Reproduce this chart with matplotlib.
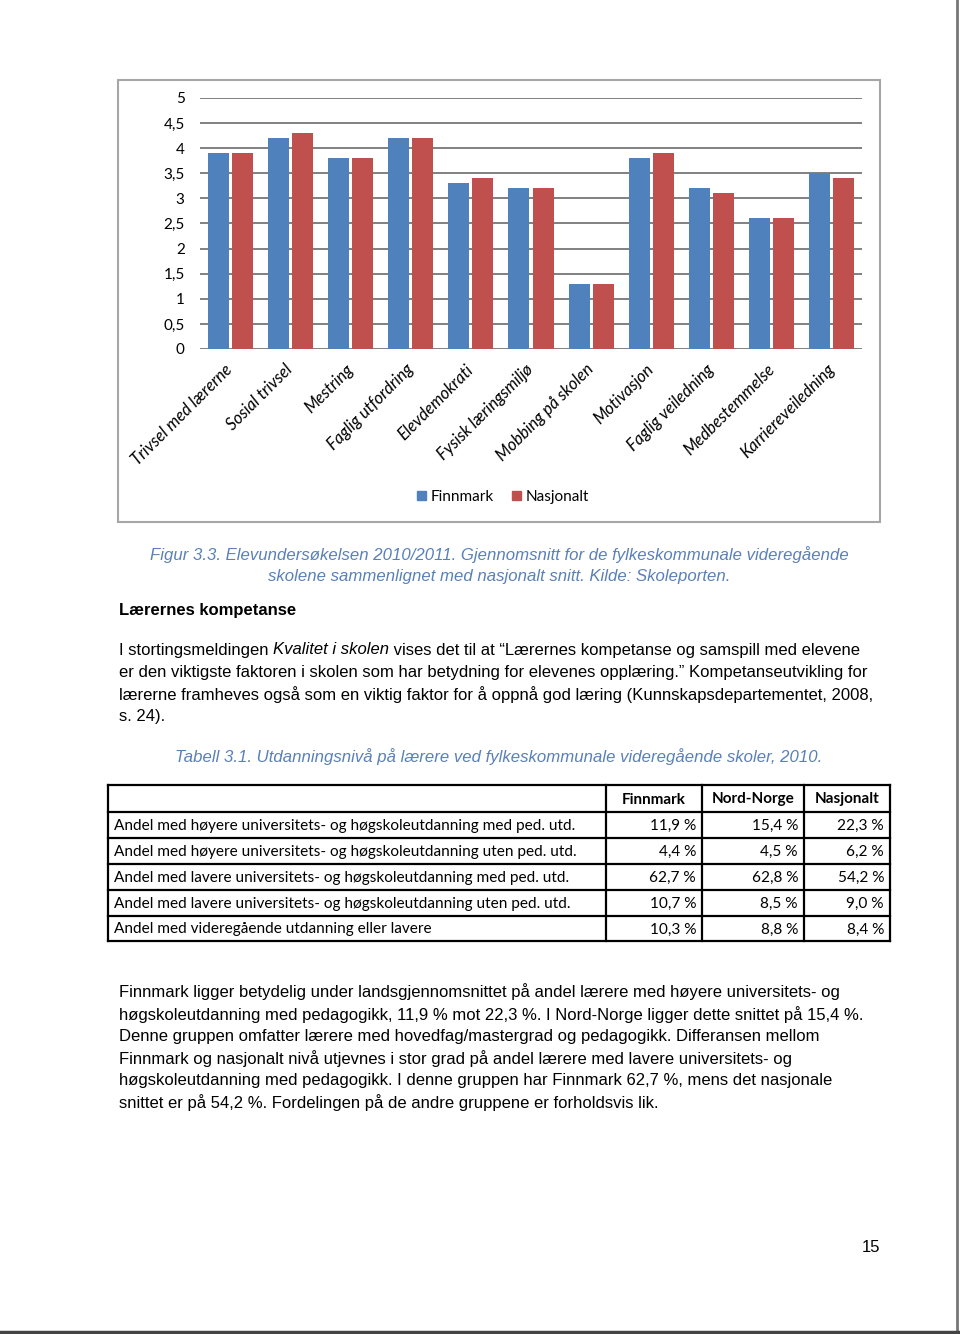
import matplotlib
matplotlib.use("Agg")
import matplotlib.pyplot as plt
from matplotlib.patches import Patch, Rectangle
from matplotlib.ticker import FuncFormatter, MultipleLocator
import numpy as np

# chart data (Elevundersøkelsen 2010/2011)
categories = ["Trivsel med lærerne", "Sosial trivsel", "Mestring", "Faglig utfordring",
              "Elevdemokrati", "Fysisk læringsmiljø", "Mobbing på skolen", "Motivasjon",
              "Faglig veiledning", "Medbestemmelse", "Karriereveiledning"]
finnmark = [3.9, 4.2, 3.8, 4.2, 3.3, 3.2, 1.3, 3.8, 3.2, 2.6, 3.5]
nasjonalt = [3.9, 4.3, 3.8, 4.2, 3.4, 3.2, 1.3, 3.9, 3.1, 2.6, 3.4]

# table data
tab_rows = ["Andel med høyere universitets- og høgskoleutdanning med ped. utd.",
            "Andel med høyere universitets- og høgskoleutdanning uten ped. utd.",
            "Andel med lavere universitets- og høgskoleutdanning med ped. utd.",
            "Andel med lavere universitets- og høgskoleutdanning uten ped. utd.",
            "Andel med videregående utdanning eller lavere"]
tab_cols = ["Finnmark", "Nord-Norge", "Nasjonalt"]
tab_finnmark = ["11,9 %", "4,4 %", "62,7 %", "10,7 %", "10,3 %"]
tab_nordnorge = ["15,4 %", "4,5 %", "62,8 %", "8,5 %", "8,8 %"]
tab_nasjonalt = ["22,3 %", "6,2 %", "54,2 %", "9,0 %", "8,4 %"]

fig_caption = ["Figur 3.3. Elevundersøkelsen 2010/2011. Gjennomsnitt for de fylkeskommunale videregående",
               "skolene sammenlignet med nasjonalt snitt. Kilde: Skoleporten."]
heading = "Lærernes kompetanse"
para1 = ["er den viktigste faktoren i skolen som har betydning for elevenes opplæring.\u201d Kompetanseutvikling for",
         "lærerne framheves også som en viktig faktor for å oppnå god læring (Kunnskapsdepartementet, 2008,",
         "s. 24)."]
tab_caption = "Tabell 3.1. Utdanningsnivå på lærere ved fylkeskommunale videregående skoler, 2010."
para2 = ["Finnmark ligger betydelig under landsgjennomsnittet på andel lærere med høyere universitets- og",
         "høgskoleutdanning med pedagogikk, 11,9 % mot 22,3 %. I Nord-Norge ligger dette snittet på 15,4 %.",
         "Denne gruppen omfatter lærere med hovedfag/mastergrad og pedagogikk. Differansen mellom",
         "Finnmark og nasjonalt nivå utjevnes i stor grad på andel lærere med lavere universitets- og",
         "høgskoleutdanning med pedagogikk. I denne gruppen har Finnmark 62,7 %, mens det nasjonale",
         "snittet er på 54,2 %. Fordelingen på de andre gruppene er forholdsvis lik."]

BLUE = "#4F81BD"
RED = "#C0504D"
CAP = "#5A80B8"
body_font = "Liberation Sans"
cal_font = "Lato"
BODY_SIZE = 12

fig = plt.figure(figsize=(9.6, 13.34), dpi=100)
fig.patch.set_facecolor("white")

# page overlay in pixel coords
pg = fig.add_axes([0, 0, 1, 1])
pg.set_xlim(0, 960)
pg.set_ylim(1334, 0)
pg.axis("off")

# page edges
pg.plot([957, 957], [0, 1333], color="#777777", lw=2)
pg.plot([0, 958], [1332, 1332], color="#444444", lw=2.5)

# chart frame
pg.add_patch(Rectangle((118, 80), 762, 442, fill=False, edgecolor="#a6a6a6", lw=1.5))

# the bar chart
ax = fig.add_axes([200 / 960, 1 - 349 / 1334, 662 / 960, 251 / 1334])
x = np.arange(len(categories))
w = 0.35
ax.bar(x - 0.2, finnmark, w, color=BLUE, zorder=3)
ax.bar(x + 0.2, nasjonalt, w, color=RED, zorder=3)
ax.set_xlim(-0.5, len(categories) - 0.5)
ax.set_ylim(0, 5)
ax.yaxis.set_major_locator(MultipleLocator(0.5))
ax.yaxis.set_major_formatter(FuncFormatter(lambda v, p: ("%g" % v).replace(".", ",")))
ax.grid(axis="y", color="#808080", lw=1.4, zorder=0)
ax.set_axisbelow(True)
for s in ax.spines.values():
    s.set_visible(False)
ax.tick_params(axis="both", length=0)
ax.tick_params(axis="y", pad=11)
for lab in ax.get_yticklabels():
    lab.set_fontfamily(cal_font)
    lab.set_fontsize(11)
ax.set_xticks(x)
ax.set_xticklabels(categories, rotation=45, ha="right", va="center",
                   rotation_mode="anchor", fontstyle="italic",
                   fontfamily=cal_font, fontsize=12)
ax.tick_params(axis="x", pad=13)

handles = [Patch(color=BLUE, label="Finnmark"), Patch(color=RED, label="Nasjonalt")]
fig.legend(handles=handles, loc="center", bbox_to_anchor=(503 / 960, 1 - 497 / 1334),
           ncol=2, frameon=False, handlelength=0.6, handleheight=0.6,
           handletextpad=0.3, columnspacing=1.2, prop={"family": cal_font, "size": 11})

# figure caption
for i, line in enumerate(fig_caption):
    pg.text(499, 555 + i * 21, line, ha="center", va="center", fontstyle="italic",
            family=body_font, fontsize=12.1, color=CAP)

pg.text(119, 611, heading, ha="left", va="center", family=body_font,
        fontsize=BODY_SIZE, fontweight="bold", color="black")

# first paragraph, first line has an italic title in it
fig.canvas.draw()
r = fig.canvas.get_renderer()
xpos = 119
for piece, style in [("I stortingsmeldingen ", "normal"), ("Kvalitet i skolen", "italic"),
                     (" vises det til at \u201cLærernes kompetanse og samspill med elevene", "normal")]:
    t = pg.text(xpos, 650, piece, ha="left", va="center", family=body_font,
                fontsize=BODY_SIZE, fontstyle=style)
    bb = t.get_window_extent(r)
    xpos += bb.width
for i, line in enumerate(para1):
    pg.text(119, 672 + i * 22.3, line, ha="left", va="center", family=body_font, fontsize=BODY_SIZE)

pg.text(499, 757, tab_caption, ha="center", va="center", fontstyle="italic",
        family=body_font, fontsize=12.1, color=CAP)

# table
xe = [108, 606, 702, 804, 890]
ye = [785, 812, 838, 864, 890, 916, 941]
for xv in xe:
    pg.plot([xv, xv], [ye[0], ye[-1]], color="black", lw=1.6, solid_capstyle="projecting")
for yv in ye:
    pg.plot([xe[0], xe[-1]], [yv, yv], color="black", lw=1.6, solid_capstyle="projecting")
for j, c in enumerate(tab_cols):
    pg.text((xe[j + 1] + xe[j + 2]) / 2, (ye[0] + ye[1]) / 2 + 1, c, ha="center", va="center",
            family=cal_font, fontsize=11, fontweight="bold")
cols = [tab_finnmark, tab_nordnorge, tab_nasjonalt]
for i, lab in enumerate(tab_rows):
    yc = (ye[i + 1] + ye[i + 2]) / 2 + 1
    pg.text(xe[0] + 6, yc, lab, ha="left", va="center", family=cal_font, fontsize=11.1)
    for j, col in enumerate(cols):
        pg.text(xe[j + 2] - 6, yc, col[i], ha="right", va="center", family=cal_font, fontsize=11.1)

for i, line in enumerate(para2):
    pg.text(119, 992 + i * 22.2, line, ha="left", va="center", family=body_font, fontsize=BODY_SIZE)

pg.text(871, 1247, "15", ha="center", va="center", family=body_font, fontsize=BODY_SIZE)

fig.savefig("out.png", dpi=100)
